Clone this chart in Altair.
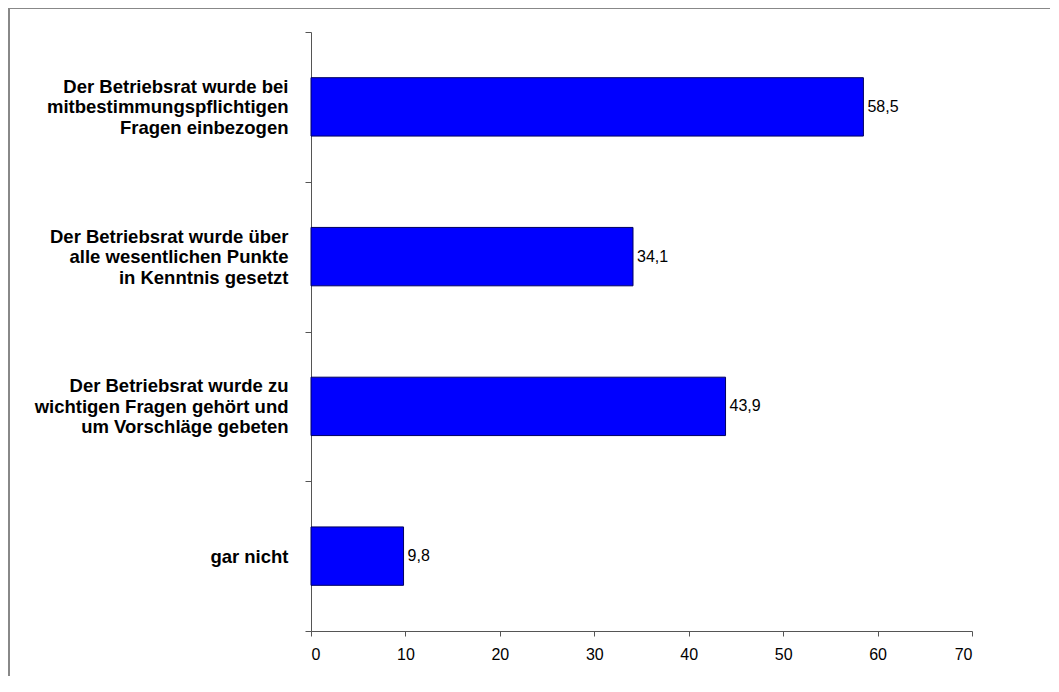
import altair as alt
import pandas as pd

categories = [
    "Der Betriebsrat wurde bei\nmitbestimmungspflichtigen\nFragen einbezogen",
    "Der Betriebsrat wurde über\nalle wesentlichen Punkte\nin Kenntnis gesetzt",
    "Der Betriebsrat wurde zu\nwichtigen Fragen gehört und\num Vorschläge gebeten",
    "\ngar nicht\n",
]
values = [58.5, 34.1, 43.9, 9.8]
x_ticks = [0, 10, 20, 30, 40, 50, 60, 70]

df = pd.DataFrame({"cat": categories, "val": values})

W, H = 661, 599
PAD = {"left": 303, "top": 24, "right": 78, "bottom": 45}
FONT = "Liberation Sans"
LH = 20.5

y_enc = alt.Y(
    "cat:N",
    sort=categories,
    title=None,
    scale=alt.Scale(paddingInner=0, paddingOuter=0),
    axis=alt.Axis(
        tickBand="extent",
        tickSize=6,
        tickColor="#555555",
        domainColor="#555555",
        labelFont=FONT,
        labelFontSize=18.5,
        labelFontWeight="bold",
        labelColor="#000000",
        labelPadding=17,
        labelLineHeight=LH,
        labelOffset=-LH,
        labelLimit=400,
        labelExpr="split(datum.label, '\\n')",
    ),
)

x_enc = alt.X(
    "val:Q",
    title=None,
    scale=alt.Scale(domain=[0, 70], nice=False),
    axis=alt.Axis(
        values=x_ticks,
        tickSize=5,
        tickColor="#555555",
        domainColor="#555555",
        grid=False,
        labelFont=FONT,
        labelFontSize=16,
        labelColor="#000000",
        labelPadding=10,
        format="d",
    ),
)

base = alt.Chart(df)

bars = base.mark_bar(
    color="#0000FF", stroke="#000060", strokeWidth=1, height={"band": 0.39}
).encode(x=x_enc, y=y_enc)

texts = (
    base.transform_calculate(lab="replace(format(datum.val, '.1f'), '.', ',')")
    .mark_text(align="left", baseline="middle", dx=4, font=FONT, fontSize=16, color="#000000")
    .encode(x="val:Q", y=alt.Y("cat:N", sort=categories, bandPosition=0.5), text="lab:N")
)

frame_df = pd.DataFrame({"k": [0]})
top_line = alt.Chart(frame_df).mark_rule(color="#888888", strokeWidth=2).encode(
    x=alt.value(-PAD["left"] + 1), x2=alt.value(W + PAD["right"]), y=alt.value(-PAD["top"])
)
left_line = alt.Chart(frame_df).mark_rule(color="#888888", strokeWidth=2).encode(
    x=alt.value(-PAD["left"] + 1), y=alt.value(-PAD["top"]), y2=alt.value(H + PAD["bottom"])
)

chart = (
    alt.layer(bars, texts, top_line, left_line)
    .properties(
        width=W,
        height=H,
        padding=PAD,
        autosize=alt.AutoSizeParams(type="none"),
        background="#ffffff",
    )
    .configure_view(stroke=None)
)

chart.save("out.html", embed_options={"renderer": "svg", "actions": False})
